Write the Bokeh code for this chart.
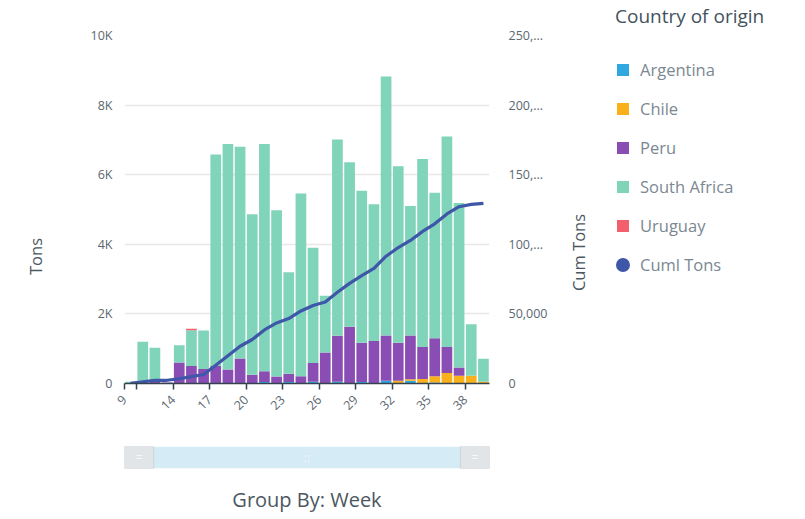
import math
import numpy as np
from bokeh.plotting import figure
from bokeh.models import (Range1d, LinearAxis, FixedTicker, Legend, LegendItem,
                          Label, ColumnDataSource)
from bokeh.layouts import column, row
from bokeh.embed import file_html
from bokeh.resources import INLINE
from bokeh.core.properties import value

# ---------------- data ----------------
weeks = [9] + list(range(11, 40))
countries = ["Argentina", "Chile", "Peru", "South Africa", "Uruguay"]
colors = ["#2fa7df", "#f9b01a", "#8a4db3", "#80d4b9", "#f35f6c"]

argentina = [0, 0, 0, 0, 0, 0, 0, 0, 0, 0, 0, 40, 0, 40, 0, 50, 0, 50, 0, 40,
             0, 80, 0, 80, 0, 30, 0, 0, 0, 0]
chile = [0, 0, 0, 0, 0, 0, 0, 0, 0, 0, 0, 0, 0, 0, 0, 0, 0, 0, 0, 0,
         0, 0, 80, 40, 130, 180, 300, 220, 220, 50]
peru = [0, 80, 100, 30, 600, 500, 420, 500, 400, 720, 250, 310, 200, 240, 210,
        540, 890, 1320, 1630, 1130, 1220, 1300, 1090, 1260, 920, 1090, 750, 240, 0, 0]
south_africa = [50, 1120, 930, 0, 500, 1030, 1100, 6080, 6480, 6080, 4610, 6530,
                4780, 2920, 5250, 3310, 1630, 5640, 4730, 4370, 3930, 7440, 5070,
                3720, 5400, 4180, 6050, 4730, 1480, 660]
uruguay = [0, 0, 0, 0, 0, 40, 0, 0, 0, 0, 0, 0, 0, 0, 0, 0, 0, 0, 0, 0,
           0, 0, 0, 0, 0, 0, 0, 0, 0, 0]

left_ticks = [0, 2000, 4000, 6000, 8000, 10000]
left_labels = ["0", "2K", "4K", "6K", "8K", "10K"]
right_ticks = [0, 50000, 100000, 150000, 200000, 250000]
right_labels = ["0", "50,000", "100,...", "150,...", "200,...", "250,..."]

FONT = "Open Sans"
LINE_COLOR = "#3e57a8"
AXIS_TITLE_COLOR = "#4b5761"
TICK_COLOR = "#5c6770"

n = len(weeks)
idx = np.arange(n)
centers = idx + 0.5
totals = (np.array(argentina) + np.array(chile) + np.array(peru)
          + np.array(south_africa) + np.array(uruguay))
cum = np.cumsum(totals)

src = ColumnDataSource(dict(x=centers, Argentina=argentina, Chile=chile, Peru=peru,
                            **{"South Africa": south_africa}, Uruguay=uruguay,
                            cum=cum))

H_MAIN = 430
H_SLIDER = 87
W_LEFT = 60
W_MAIN = 490
W_RIGHT = 250

# ---------------- left strip: axis title "Tons" ----------------
pl = figure(width=W_LEFT, height=H_MAIN, x_range=Range1d(0, W_LEFT),
            y_range=Range1d(0, H_MAIN), output_backend="svg", toolbar_location=None,
            x_axis_location=None, y_axis_location=None, min_border=0)
pl.outline_line_color = None
pl.grid.grid_line_color = None
pl.add_layout(Label(x=35, y=H_MAIN - 256, text="Tons", angle=math.pi / 2,
                    text_align="center", text_baseline="middle",
                    text_font=FONT, text_font_size="16.5px",
                    text_color=AXIS_TITLE_COLOR))

# ---------------- main figure ----------------
p = figure(width=W_MAIN, height=H_MAIN, x_range=Range1d(0, n),
           y_range=Range1d(0, 10000),
           output_backend="svg", toolbar_location=None,
           min_border_left=64, min_border_right=56, min_border_top=35,
           min_border_bottom=47)
p.outline_line_color = None
p.xgrid.grid_line_color = None
p.ygrid.grid_line_color = "#e8e8e8"
p.ygrid.grid_line_width = 1.5
p.extra_y_ranges = {"cum": Range1d(0, 250000)}

bars = p.vbar_stack(countries, x="x", width=0.88, source=src, color=colors,
                    line_color=None)
line = p.line("x", "cum", source=src, y_range_name="cum", line_width=3.2,
              color=LINE_COLOR, line_join="round")

# x axis: labelled ticks every 3 weeks, plus the unlabelled tick at the 2nd bar
xa = p.xaxis[0]
label_idx = [0] + list(range(4, n, 3))
xa.ticker = FixedTicker(ticks=label_idx, minor_ticks=[1])
xa.major_label_overrides = {int(i): str(weeks[i]) for i in label_idx}
xa.major_label_orientation = math.pi / 4
xa.axis_line_color = "#34434f"
xa.axis_line_width = 1.5
for kind in ("major", "minor"):
    setattr(xa, f"{kind}_tick_line_color", "#34434f")
    setattr(xa, f"{kind}_tick_line_width", 1.5)
    setattr(xa, f"{kind}_tick_out", 6)
    setattr(xa, f"{kind}_tick_in", 0)
xa.major_label_text_font = FONT
xa.major_label_text_font_size = "12.5px"
xa.major_label_text_color = TICK_COLOR
xa.major_label_standoff = 8

# left y axis
ya = p.yaxis[0]
ya.ticker = FixedTicker(ticks=left_ticks)
ya.major_label_overrides = dict(zip(left_ticks, left_labels))
ya.axis_line_color = None
ya.major_tick_line_color = None
ya.minor_tick_line_color = None
ya.major_label_standoff = 6
ya.major_label_text_font = FONT
ya.major_label_text_font_size = "12.5px"
ya.major_label_text_color = TICK_COLOR

# right y axis
ra = LinearAxis(y_range_name="cum")
ra.ticker = FixedTicker(ticks=right_ticks)
ra.major_label_overrides = dict(zip(right_ticks, right_labels))
ra.axis_line_color = None
ra.major_tick_line_color = None
ra.minor_tick_line_color = None
ra.major_label_standoff = 13
ra.major_label_text_font = FONT
ra.major_label_text_font_size = "12.5px"
ra.major_label_text_color = TICK_COLOR
p.add_layout(ra, "right")

# ---------------- range slider strip ----------------
p2 = figure(width=W_MAIN, height=H_SLIDER, x_range=p.x_range, y_range=Range1d(0, 1),
            output_backend="svg", toolbar_location=None,
            min_border_left=64, min_border_right=56, min_border_top=16,
            min_border_bottom=H_SLIDER - 16 - 22)
p2.outline_line_color = None
p2.grid.grid_line_color = None
p2.yaxis.visible = False
p2.quad(left=[0], right=[n], bottom=[0], top=[1], fill_color="#d5ecf6",
        line_color=None)
p2.quad(left=[0, n - 2.4], right=[2.4, n], bottom=[0, 0], top=[1, 1],
        fill_color="#e2e5e7", line_color="#cfd3d6", line_width=1)
p2.text(x=[1.2, n - 1.2, n / 2], y=[0.5, 0.5, 0.5], text=["=", "=", "::"],
        text_align="center", text_baseline="middle", text_color="#f7f7f7",
        text_font=value(FONT), text_font_size="12px")
xa2 = p2.xaxis[0]
xa2.ticker = FixedTicker(ticks=[])
xa2.axis_line_color = None
xa2.major_tick_line_color = None
xa2.minor_tick_line_color = None
xa2.axis_label = "Group By: Week"
xa2.axis_label_text_font = FONT
xa2.axis_label_text_font_size = "20px"
xa2.axis_label_text_font_style = "normal"
xa2.axis_label_text_color = AXIS_TITLE_COLOR
xa2.axis_label_standoff = 17

# ---------------- right strip: "Cum Tons" + legend ----------------
pr = figure(width=W_RIGHT, height=H_MAIN, x_range=Range1d(0, W_RIGHT),
            y_range=Range1d(0, H_MAIN), output_backend="svg", toolbar_location=None,
            x_axis_location=None, y_axis_location=None, min_border=0)
pr.outline_line_color = None
pr.grid.grid_line_color = None
pr.add_layout(Label(x=28, y=H_MAIN - 252, text="Cum Tons", angle=math.pi / 2,
                    text_align="center", text_baseline="middle",
                    text_font=FONT, text_font_size="16.5px",
                    text_color=AXIS_TITLE_COLOR))

# legend proxies: the same series on a y range placed far out of view,
# with zero-width bars so nothing is drawn in this strip itself
pr.extra_y_ranges = {"proxy": Range1d(-2, -1)}
items = []
for c, col in zip(countries, colors):
    r = pr.vbar(x="x", top=c, width=0, source=src, color=col, line_color=None,
                y_range_name="proxy")
    items.append(LegendItem(label=c, renderers=[r]))
r_dot = pr.scatter("x", "cum", source=src, color=LINE_COLOR, line_width=8,
                   size=0, y_range_name="proxy")
items.append(LegendItem(label="Cuml Tons", renderers=[r_dot]))

legend = Legend(items=items, location=(65, 154), title="Country of origin",
                title_text_font=FONT, title_text_font_size="19px",
                title_text_color="#44525e", title_text_font_style="normal",
                title_standoff=29,
                label_text_font=FONT, label_text_font_size="16.5px",
                label_text_color="#7b8892", label_height=22,
                glyph_height=15, glyph_width=15, label_standoff=10,
                spacing=16, padding=0, margin=0,
                border_line_color=None, background_fill_alpha=0)
pr.add_layout(legend)

layout = row(pl, column(p, p2, spacing=0), pr, spacing=0)
open("out.html", "w").write(file_html(layout, INLINE))
